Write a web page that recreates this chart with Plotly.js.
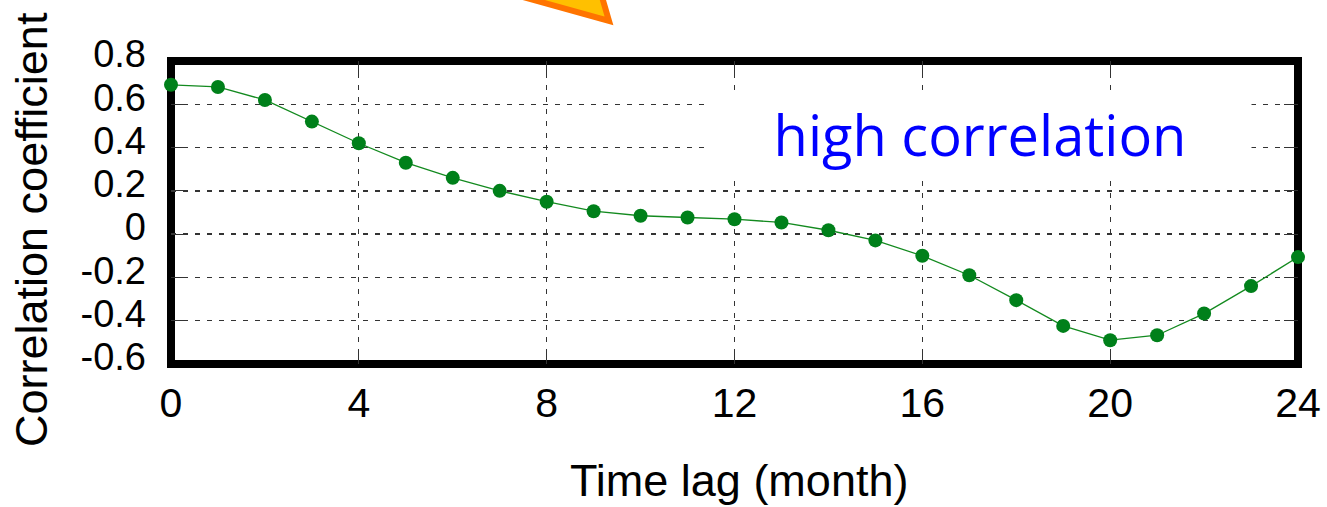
<!DOCTYPE html>
<html>
<head>
<meta charset="utf-8">
<script src="https://cdn.plot.ly/plotly-3.0.1.min.js"></script>
<style>
  html, body { margin: 0; padding: 0; background: #fff; }
  #chart { width: 1327px; height: 507px; }
</style>
</head>
<body>
<div id="chart"></div>
<script>
// Lag (months) and the correlation coefficient at each lag
const lagMonths = [0, 1, 2, 3, 4, 5, 6, 7, 8, 9, 10, 11, 12,
                   13, 14, 15, 16, 17, 18, 19, 20, 21, 22, 23, 24];
const correlation = [0.69, 0.68, 0.62, 0.52, 0.42, 0.33, 0.26, 0.20, 0.15, 0.106, 0.085, 0.077, 0.069,
                     0.054, 0.018, -0.029, -0.10, -0.19, -0.305, -0.424, -0.49, -0.467, -0.367, -0.24, -0.106];
const xTicks = [0, 4, 8, 12, 16, 20, 24];
const yTicks = [-0.6, -0.4, -0.2, 0, 0.2, 0.4, 0.6, 0.8];
const yTickText = ['-0.6', '-0.4', '-0.2', '0', '0.2', '0.4', '0.6', '0.8'];

const W = 1327, H = 507;
const M = { l: 171, r: 29, t: 61, b: 143 };
const plotW = W - M.l - M.r, plotH = H - M.t - M.b;
// pixel -> paper helpers for decorations placed outside the data area
const px = x => (x - M.l) / plotW;
const py = y => (H - M.b - y) / plotH;

const trace = {
  x: lagMonths,
  y: correlation,
  type: 'scatter',
  mode: 'lines+markers',
  line: { color: '#138a1f', width: 1.3 },
  marker: { color: '#00801a', size: 14 },
  cliponaxis: false,
  hoverinfo: 'skip'
};

const fontFamily = '"Liberation Sans", Arial, sans-serif';

const arrowPath = 'M ' + px(498) + ' ' + py(-10) +
                  ' L ' + px(609) + ' ' + py(21) +
                  ' L ' + px(600) + ' ' + py(-10) + ' Z';

const layout = {
  width: W, height: H,
  margin: M,
  paper_bgcolor: '#ffffff',
  plot_bgcolor: '#ffffff',
  showlegend: false,
  font: { family: fontFamily, color: '#000' },
  xaxis: {
    range: [0, 24],
    tickvals: xTicks,
    ticktext: xTicks.map(String),
    tickfont: { size: 41, family: fontFamily },
    ticks: 'inside', ticklen: 14, tickwidth: 1, tickcolor: '#333',
    mirror: 'ticks',
    ticklabelstandoff: 11,
    showgrid: true, gridcolor: '#333', gridwidth: 1.3, griddash: '5px,7px',
    zeroline: false, showline: false
  },
  yaxis: {
    range: [-0.6, 0.8],
    tickvals: yTicks,
    ticktext: yTickText,
    tickfont: { size: 38, family: fontFamily },
    ticks: 'inside', ticklen: 14, tickwidth: 1, tickcolor: '#333',
    mirror: 'ticks',
    ticklabelstandoff: 24,
    ticklabelshift: -7,
    showgrid: true, gridcolor: '#333', gridwidth: 1.3, griddash: '5px,7px',
    zeroline: false, showline: false
  },
  shapes: [
    // heavy frame around the data area
    { type: 'rect', xref: 'paper', yref: 'paper', x0: 0, x1: 1, y0: 0, y1: 1,
      line: { color: '#000', width: 8 }, fillcolor: 'rgba(0,0,0,0)', layer: 'between' },
    // pointer coming down from above the chart
    { type: 'path', xref: 'paper', yref: 'paper', path: arrowPath,
      fillcolor: '#ffc000', line: { color: '#ff7400', width: 6 }, layer: 'above' }
  ],
  annotations: [
    { xref: 'paper', yref: 'paper', x: px(980), y: py(134), xanchor: 'center', yanchor: 'middle',
      text: 'high correlation', showarrow: false,
      font: { family: '"Open Sans", "Noto Sans", sans-serif', size: 56, color: '#0000ff' },
      bgcolor: '#ffffff', width: 540, height: 84 },
    // axis titles
    { xref: 'paper', yref: 'paper', x: px(739), y: py(480), xanchor: 'center', yanchor: 'middle',
      text: 'Time lag (month)', showarrow: false,
      font: { family: fontFamily, size: 45, color: '#000' } },
    { xref: 'paper', yref: 'paper', x: px(31), y: py(230), xanchor: 'center', yanchor: 'middle',
      text: 'Correlation coefficient', showarrow: false, textangle: -90,
      font: { family: fontFamily, size: 45, color: '#000' } }
  ]
};

Plotly.newPlot('chart', [trace], layout, { staticPlot: true, displayModeBar: false });
</script>
</body>
</html>
